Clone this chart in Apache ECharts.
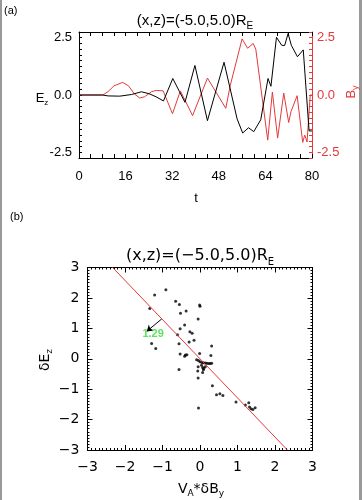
<!DOCTYPE html>
<html><head><meta charset="utf-8">
<script src="https://cdn.jsdelivr.net/npm/echarts@6/dist/echarts.min.js"></script>
<style>html,body{margin:0;padding:0;background:#fff}#c{width:362px;height:500px}</style>
</head><body><div id="c"></div>
<script>
// Panel (a): time series
const ezT = [0,8,10,14,18,21.4,24,26.5,29,32.2,34.5,36.4,39.8,44.1,49.8,54.3,56.2,58.2,60.0,62.4,64.9,65.9,67.8,69.6,70.6,71.8,72.9,75.0,77.0,79.0,80];
const ezV = [0,0,-0.04,-0.05,0.02,0.14,0.06,-0.08,-0.26,0.72,0.15,-0.32,1.29,-1.12,1.43,-1.05,-1.66,-1.43,-1.6,-1.08,0.72,0.38,2.52,2.17,2.16,2.68,2.17,1.67,1.97,-1.57,-1.57];
const byT = [0,8.2,10,12,15,17,19,20.8,22.5,25,26.5,28.9,32.1,34.8,39.0,44.1,50.4,51.9,56.0,57.9,59.8,60.7,64.8,66.4,68.2,70.3,70.9,72.0,72.8,74.9,76.8,77.5,78.3,79.4,80];
const byV = [0,0,0.15,0.4,0.55,0.4,0.05,-0.13,-0.08,0.15,0.2,0.18,-0.82,0.18,-0.9,0.74,-0.58,0.4,2.45,2.04,2.25,2.0,-1.97,0.13,-1.88,0.08,0.08,-1.2,-0.72,-0.03,-2.07,-1.75,-2.05,0.0,0.0];
const timeTickLabels = [0,16,32,48,64,80];
const fieldTickLabels = [-2.5,0,2.5];

// Panel (b): scatter
const scatterX = [-1.21,-0.91,-1.34,-0.65,-0.55,-0.52,-0.37,-0.01,0.0,-0.05,-0.41,-0.53,-0.27,-0.21,-0.60,-0.16,-0.29,-0.56,-1.29,-1.18,-0.53,-0.39,-0.35,-0.41,-0.01,0.31,0.29,-0.56,
  -0.09,-0.04,0.0,0.05,0.09,0.14,0.18,0.23,0.27,0.31,-0.05,-0.06,-0.05,0.04,0.07,0.09,0.07,0.10,0.14,
  0.33,0.44,0.53,0.61,-0.04,0.96,1.21,1.30,1.36,1.41,1.47,1.32];
const scatterY = [2.10,2.27,1.65,1.89,1.78,1.50,1.57,1.77,1.73,1.31,1.11,0.99,0.89,0.84,0.79,0.61,0.55,0.49,0.50,0.34,0.16,0.12,0.13,0.08,0.17,0.42,0.11,-0.35,
  -0.03,-0.06,-0.10,-0.12,-0.13,-0.14,-0.15,-0.16,-0.16,-0.15,-0.26,-0.40,-0.63,-0.21,-0.29,-0.36,-0.45,-0.32,-0.26,
  -0.89,-1.18,-1.15,-1.21,-1.62,-1.42,-1.52,-1.45,-1.64,-1.67,-1.61,-1.59];
const fitLineX = [-2.33, 2.33];
const fitLineY = [3.0, -3.0];
const arrowX = [-1.02, -1.42];
const arrowY = [1.31, 0.90];
const slopeText = '1.29';
const slopeTextPos = [-1.25, 0.80];
const scatterTickLabels = [-3,-2,-1,0,1,2,3];

const RED = '#e43a3a';
const F1 = 'Liberation Sans';
const F2 = 'DejaVu Sans';
const near = (v, arr) => arr.some(a => Math.abs(a - v) < 1e-6);
const minus = v => (v < 0 ? '\u2212' + Math.abs(v) : String(v));

const zip = (a, b) => a.map((v, i) => [v, b[i]]);

function tAxis(pos, showLabel) {
  return {
    type: 'value', gridIndex: 0, position: pos, min: 0, max: 80, interval: 4,
    axisLine: {show: true, onZero: false, lineStyle: {color: '#000', width: 1}},
    axisTick: {show: true, inside: true, length: 4, lineStyle: {color: '#000'}},
    axisLabel: {show: showLabel, margin: 12, color: '#000', fontSize: 13, fontFamily: F1,
      formatter: v => near(v, timeTickLabels) ? String(Math.round(v)) : ''},
    splitLine: {show: false}
  };
}
function fAxis(pos, color) {
  return {
    type: 'value', gridIndex: 0, position: pos, min: -2.75, max: 2.75, interval: 0.25,
    axisLine: {show: true, onZero: false, lineStyle: {color: color, width: 1}},
    axisTick: {show: true, inside: true, length: 3, lineStyle: {color: color}},
    axisLabel: {show: true, margin: pos === 'left' ? 7 : 5, color: color, fontSize: 13, fontFamily: F1,
      formatter: v => near(v, fieldTickLabels) ? (Math.round(v * 10) / 10).toFixed(1) : ''},
    splitLine: {show: false}
  };
}
function sAxis(pos, showLabel) {
  return {
    type: 'value', gridIndex: 1, position: pos, min: -3, max: 3, interval: 1,
    axisLine: {show: true, onZero: false, lineStyle: {color: '#000', width: 1}},
    axisTick: {show: true, inside: true, length: 5, lineStyle: {color: '#000'}},
    minorTick: {show: true, splitNumber: 10, length: 2, lineStyle: {color: '#000'}},
    axisLabel: {show: showLabel, margin: (pos === 'bottom') ? 10 : 8, color: '#000', fontSize: 14, fontFamily: F2,
      formatter: v => near(v, scatterTickLabels) ? minus(Math.round(v)) : ''},
    splitLine: {show: false}
  };
}

const chart = echarts.init(document.getElementById('c'), null, {renderer: 'canvas'});
chart.setOption({
  animation: false,
  backgroundColor: '#fff',
  grid: [
    {left: 79, top: 32, width: 233, height: 126},
    {left: 87.5, top: 267.5, width: 225, height: 182.5}
  ],
  xAxis: [tAxis('bottom', true), tAxis('top', false), sAxis('bottom', true), sAxis('top', false)],
  yAxis: [fAxis('left', '#000'), fAxis('right', RED), sAxis('left', true), sAxis('right', false)],
  series: [
    {type: 'line', xAxisIndex: 0, yAxisIndex: 1, data: zip(byT, byV), symbol: 'none', silent: true,
      lineStyle: {color: RED, width: 1}, itemStyle: {color: RED}},
    {type: 'line', xAxisIndex: 0, yAxisIndex: 0, data: zip(ezT, ezV), symbol: 'none', silent: true,
      lineStyle: {color: '#000', width: 1}, itemStyle: {color: '#000'}},
    {type: 'line', xAxisIndex: 2, yAxisIndex: 2, data: zip(fitLineX, fitLineY), symbol: 'none', silent: true,
      lineStyle: {color: RED, width: 1}, itemStyle: {color: RED}},
    {type: 'scatter', xAxisIndex: 2, yAxisIndex: 2, data: zip(scatterX, scatterY), symbolSize: 3, silent: true,
      itemStyle: {color: '#000'}},
    {type: 'lines', coordinateSystem: 'cartesian2d', xAxisIndex: 2, yAxisIndex: 2, silent: true,
      symbol: ['none', 'arrow'], symbolSize: 6,
      lineStyle: {color: '#000', width: 1, opacity: 1},
      data: [{coords: zip(arrowX, arrowY)}]},
    {type: 'scatter', xAxisIndex: 2, yAxisIndex: 2, data: [slopeTextPos], symbol: 'circle', symbolSize: 1, silent: true,
      itemStyle: {color: 'rgba(0,0,0,0)'},
      label: {show: true, position: 'inside', formatter: slopeText, color: '#33dd33', fontSize: 11, fontWeight: 'bold', fontFamily: F1}}
  ],
  graphic: [
    {type: 'rect', shape: {x: 0, y: 0, width: 2, height: 500}, style: {fill: '#999'}, silent: true},
    {type: 'rect', shape: {x: 359, y: 0, width: 3, height: 500}, style: {fill: '#999'}, silent: true},
    {type: 'text', x: 4, y: 11, style: {text: '(a)', font: '11px "Liberation Sans"', fill: '#000', textVerticalAlign: 'middle'}},
    {type: 'text', x: 10, y: 217, style: {text: '(b)', font: '11px "Liberation Sans"', fill: '#000', textVerticalAlign: 'middle'}},
    {type: 'text', x: 195, y: 19, style: {text: '{m|(x,z)=(-5.0,5.0)R}{s|E}', textAlign: 'center', textVerticalAlign: 'middle', fill: '#000',
      rich: {m: {fontSize: 15, fontFamily: F1, lineHeight: 18, verticalAlign: 'bottom'}, s: {fontSize: 10, fontFamily: F1, lineHeight: 10, verticalAlign: 'bottom', padding: [0,0,-3,0]}}}},
    {type: 'text', x: 42, y: 97, style: {text: '{m|E}{s|z}', textAlign: 'center', textVerticalAlign: 'middle', fill: '#000',
      rich: {m: {fontSize: 13, fontFamily: F1, lineHeight: 16, verticalAlign: 'bottom'}, s: {fontSize: 8, fontFamily: F1, lineHeight: 8, verticalAlign: 'bottom', padding: [0,0,-2,0]}}}},
    {type: 'text', x: 350, y: 92, rotation: Math.PI / 2, style: {text: '{m|B}{s|y}', textAlign: 'center', textVerticalAlign: 'middle', fill: RED,
      rich: {m: {fontSize: 13, fontFamily: F1, lineHeight: 16, verticalAlign: 'bottom', color: RED}, s: {fontSize: 9, fontFamily: F1, lineHeight: 9, verticalAlign: 'bottom', padding: [0,0,-2,0], color: RED}}}},
    {type: 'text', x: 196, y: 198, style: {text: 't', font: '13px "Liberation Sans"', fill: '#000', textAlign: 'center', textVerticalAlign: 'middle'}},
    {type: 'text', x: 200, y: 254, style: {text: '{m|(x,z)=(\u22125.0,5.0)R}{s|E}', textAlign: 'center', textVerticalAlign: 'middle', fill: '#000',
      rich: {m: {fontSize: 16, fontFamily: F2, lineHeight: 20, verticalAlign: 'bottom'}, s: {fontSize: 10, fontFamily: F2, lineHeight: 10, verticalAlign: 'bottom', padding: [0,0,-3,0]}}}},
    {type: 'text', x: 44, y: 360, rotation: Math.PI / 2, style: {text: '{m|\u03b4E}{s|z}', textAlign: 'center', textVerticalAlign: 'middle', fill: '#000',
      rich: {m: {fontSize: 14, fontFamily: F2, lineHeight: 17, verticalAlign: 'bottom'}, s: {fontSize: 9, fontFamily: F2, lineHeight: 9, verticalAlign: 'bottom', padding: [0,0,-2,0]}}}},
    {type: 'text', x: 201, y: 488, style: {text: '{m|V}{s|A}{m|*\u03b4B}{s|y}', textAlign: 'center', textVerticalAlign: 'middle', fill: '#000',
      rich: {m: {fontSize: 14, fontFamily: F2, lineHeight: 17, verticalAlign: 'bottom'}, s: {fontSize: 9, fontFamily: F2, lineHeight: 9, verticalAlign: 'bottom', padding: [0,0,-2,0]}}}}
  ]
});
</script>
</body></html>
